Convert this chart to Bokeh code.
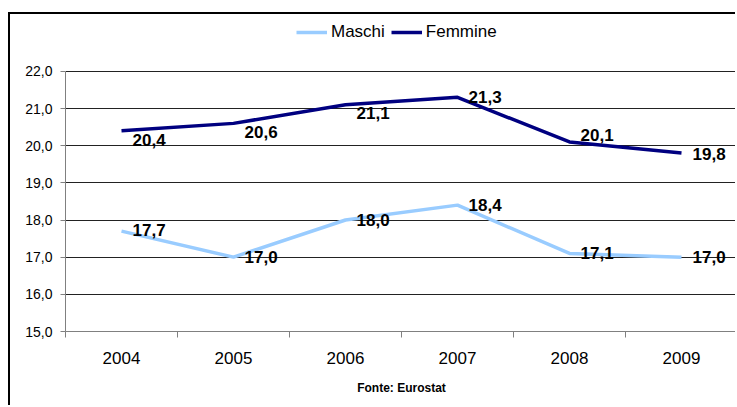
from bokeh.plotting import figure
from bokeh.models import FixedTicker, Legend, LegendItem, ColumnDataSource, Title
from bokeh.core.properties import value
from bokeh.embed import file_html
from bokeh.resources import INLINE

years = ["2004", "2005", "2006", "2007", "2008", "2009"]
maschi = [17.7, 17.0, 18.0, 18.4, 17.1, 17.0]
femmine = [20.4, 20.6, 21.1, 21.3, 20.1, 19.8]
y_ticks = [15, 16, 17, 18, 19, 20, 21, 22]

# label vertical nudges (screen px), layout only
maschi_dy = [-1, 0, 0, 0, 0, 0]
femmine_dy = [9, 9, 8, 0, -7, 1]

FONT = "Liberation Sans"
xs = [i + 0.5 for i in range(len(years))]

# frame: 309 px tall, with 15..22 spanning the lower 261 px (room for legend above)
y_lo, y_hi = y_ticks[0], y_ticks[-1]
y_top = y_lo + (y_hi - y_lo) * 309 / 261

p = figure(width=727, height=393, x_range=(0, len(years)), y_range=(y_lo, y_top),
           output_backend="svg", toolbar_location=None, title=None,
           min_border_left=55, min_border_right=0, min_border_top=9,
           min_border_bottom=75)
p.outline_line_color = None
p.background_fill_color = "white"
p.border_fill_color = "white"
p.styles = {"border-left": "2px solid #000", "border-top": "2px solid #000",
            "margin-top": "12px", "margin-left": "8px"}

# grid
p.xgrid.visible = False
p.ygrid.ticker = FixedTicker(ticks=y_ticks)
p.ygrid.grid_line_color = "#222222"
p.ygrid.grid_line_width = 1

# y axis
p.yaxis.ticker = FixedTicker(ticks=y_ticks)
p.yaxis.bounds = (y_lo, y_hi)
p.yaxis.major_label_overrides = {float(v): f"{v:.1f}".replace(".", ",") for v in y_ticks}
p.yaxis.major_label_text_font = FONT
p.yaxis.major_label_text_font_size = "14px"
p.yaxis.major_label_text_color = "#000000"
p.yaxis.axis_line_color = "#808080"
p.yaxis.major_tick_line_color = "#808080"
p.yaxis.major_tick_out = 5
p.yaxis.major_tick_in = 0
p.yaxis.minor_tick_line_color = None
p.yaxis.major_label_standoff = 8

# x axis
p.xaxis.ticker = FixedTicker(ticks=xs, minor_ticks=list(range(len(years) + 1)))
p.xaxis.major_label_overrides = {float(x): y for x, y in zip(xs, years)}
p.xaxis.major_label_text_font = FONT
p.xaxis.major_label_text_font_size = "17px"
p.xaxis.major_label_text_color = "#000000"
p.xaxis.axis_line_color = "#808080"
p.xaxis.major_tick_out = 0
p.xaxis.major_tick_in = 0
p.xaxis.minor_tick_out = 6
p.xaxis.minor_tick_in = 0
p.xaxis.minor_tick_line_color = "#808080"
p.xaxis.major_label_standoff = 14

src = ColumnDataSource(dict(
    x=xs, m=maschi, f=femmine,
    ml=[f"{v:.1f}".replace(".", ",") for v in maschi],
    fl=[f"{v:.1f}".replace(".", ",") for v in femmine],
    mdy=maschi_dy, fdy=femmine_dy,
))

rm = p.line("x", "m", source=src, line_color="#99CCFF", line_width=3.5)
rf = p.line("x", "f", source=src, line_color="#000080", line_width=3.5)

for col, dy in (("ml", "mdy"), ("fl", "fdy")):
    ycol = "m" if col == "ml" else "f"
    p.text(x="x", y=ycol, text=col, source=src, x_offset=11, y_offset=dy,
           text_font=value(FONT), text_font_size="17px", text_font_style="bold",
           text_color="#000000", text_align="left", text_baseline="middle")

legend = Legend(items=[LegendItem(label="Maschi", renderers=[rm]),
                       LegendItem(label="Femmine", renderers=[rf])],
                orientation="horizontal", location=(231, 289))
legend.label_text_font = FONT
legend.label_text_font_size = "17px"
legend.label_text_color = "#000000"
legend.glyph_width = 31
legend.label_standoff = 4
legend.spacing = 6
legend.padding = 0
legend.margin = 0
legend.border_line_color = None
legend.background_fill_alpha = 0
p.add_layout(legend, "center")

src_title = Title(text="Fonte: Eurostat", align="center", text_font=FONT,
                  text_font_size="12px", text_font_style="bold", text_color="#000000",
                  standoff=25, offset=0)
p.add_layout(src_title, "below")

open("out.html", "w").write(file_html(p, INLINE))
